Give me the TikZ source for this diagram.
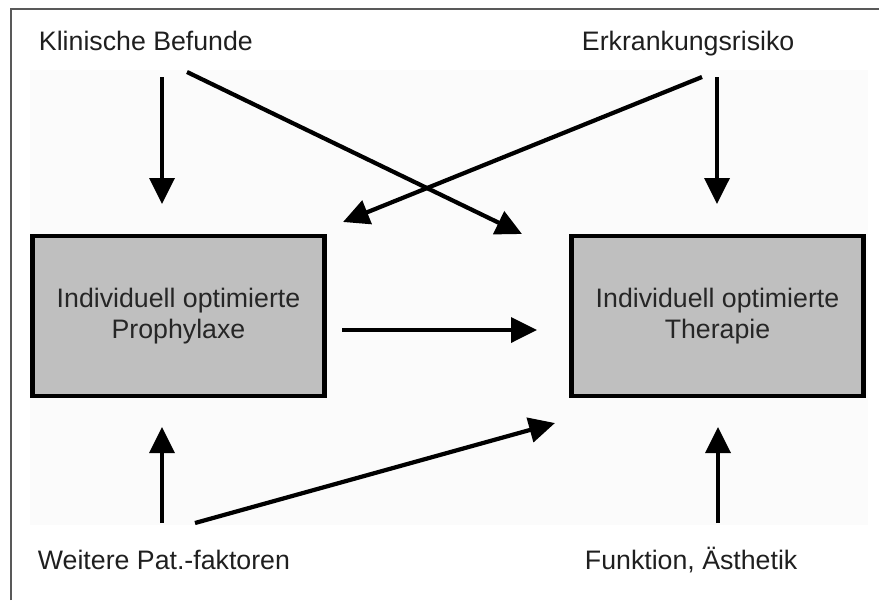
\documentclass[tikz,border=0pt]{standalone}
\usepackage{fontspec}
\setmainfont{Liberation Sans}
\usetikzlibrary{arrows.meta}

\begin{document}
\begin{tikzpicture}[x=0.025cm,y=-0.025cm,
    arr/.style={line width=3pt,-{Triangle[length=0.65cm,width=0.62cm]}},
    befbox/.style={draw,line width=3.4pt,fill=black!25,text=black!85,
        minimum width=7.3cm,minimum height=4cm,align=center,
        font=\fontsize{19}{22}\selectfont},
    lab/.style={anchor=base west,text=black!88,font=\fontsize{19}{22}\selectfont}]

\useasboundingbox (0,0) rectangle (879,600);

% frame and pale background
\draw [line width=1.2pt,black!65] (11,600) -- (11,9) -- (879,9);
\fill [black!1.5] (30,70) rectangle (868,525);

% the two boxes
\node [befbox] (proph) at (178.5,316) {Individuell optimierte\\Prophylaxe};
\node [befbox] (thera) at (717.5,316) {Individuell optimierte\\Therapie};

% labels
\node [lab] (befund) at (34,50) {Klinische Befunde};
\node [lab] (risiko) at (577,50) {Erkrankungsrisiko};
\node [lab] (weitere) at (33,569) {Weitere Pat.-faktoren};
\node [lab] (funktion) at (580,569) {Funktion, Ästhetik};

% arrow ends
\coordinate (befund-a) at (162,77);
\coordinate (befund-b) at (187,72);
\coordinate (risiko-a) at (702,77);
\coordinate (risiko-b) at (717,77);
\coordinate (weitere-a) at (162,523);
\coordinate (weitere-b) at (195,523);
\coordinate (funktion-a) at (718,523);
\coordinate (proph-out) at (342,330);

\coordinate (proph-top) at (162,204);
\coordinate (proph-in) at (343,222);
\coordinate (proph-bot) at (162,427);
\coordinate (thera-in) at (522,234);
\coordinate (thera-top) at (717,204);
\coordinate (thera-mid) at (537,330);
\coordinate (thera-low) at (555,423);
\coordinate (thera-bot) at (718,427);

% arrows
\draw [arr] (befund-a) -- (proph-top);
\draw [arr] (befund-b) -- (thera-in);
\draw [arr] (risiko-a) -- (proph-in);
\draw [arr] (risiko-b) -- (thera-top);
\draw [arr] (proph-out) -- (thera-mid);
\draw [arr] (weitere-a) -- (proph-bot);
\draw [arr] (weitere-b) -- (thera-low);
\draw [arr] (funktion-a) -- (thera-bot);

\end{tikzpicture}
\end{document}
